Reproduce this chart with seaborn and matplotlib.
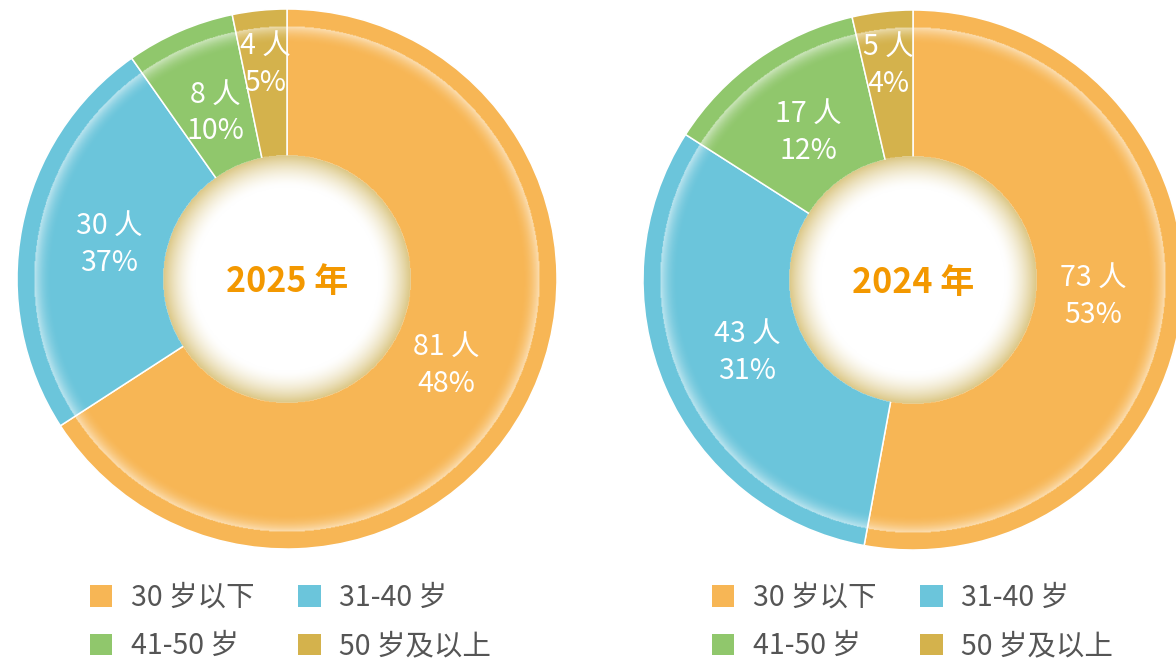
import numpy as np
import matplotlib
matplotlib.use("Agg")
import matplotlib.pyplot as plt
import seaborn as sns
from matplotlib.patches import Patch

sns.set_theme(style="white")
plt.rcParams['font.family'] = ['Noto Sans CJK SC', 'DejaVu Sans']

# data
categories = ["30 岁以下", "31-40 岁", "41-50 岁", "50 岁及以上"]
years = ["2025 年", "2024 年"]
counts_2025 = [81, 30, 8, 4]
pct_2025 = ["48%", "37%", "10%", "5%"]
counts_2024 = [73, 43, 17, 5]
pct_2024 = ["53%", "31%", "12%", "4%"]

palette = sns.color_palette(["#F7B655", "#6BC5DB", "#90C76C", "#D4B24C"])

W, H = 1176, 662
R = 270          # outer radius in px
half = 285
lim = half / R

fig = plt.figure(figsize=(W / 100, H / 100), dpi=100)


def overlay():
    # white glow inside the outer band + shaded hole in the middle
    n = 700
    g = np.linspace(-lim, lim, n)
    xx, yy = np.meshgrid(g, g)
    rr = np.hypot(xx, yy) * R
    rgba = np.ones((n, n, 4))
    r_rim, glow = 253, 18
    t = np.clip((rr - (r_rim - glow)) / glow, 0, 1)
    a = np.where(rr <= r_rim, 0.55 * t ** 2, 0)
    r_hole, shade = 124, 32
    s = np.clip((rr - (r_hole - shade)) / shade, 0, 1) ** 1.6
    beige = np.array([0.86, 0.78, 0.52])
    hole = rr <= r_hole
    rgba[hole, :3] = 1 - s[hole, None] * (1 - beige)
    rgba[..., 3] = np.where(hole, 1, a)
    return rgba


def donut(cx, cy, counts, pcts, year):
    ax = fig.add_axes([(cx - half) / W, (H - cy - half) / H, 2 * half / W, 2 * half / H])
    wedges, _ = ax.pie(counts, colors=palette, startangle=90, counterclock=False,
                       radius=1, wedgeprops=dict(edgecolor="white", linewidth=1.1))
    ax.imshow(overlay(), extent=(-lim, lim, -lim, lim), origin="lower",
              zorder=3, interpolation="bilinear")
    ax.set_xlim(-lim, lim)
    ax.set_ylim(-lim, lim)
    ax.axis("off")
    for w, c, p in zip(wedges, counts, pcts):
        mid = np.deg2rad((w.theta1 + w.theta2) / 2)
        frac = abs(w.theta2 - w.theta1) / 360
        rl = 0.8 if frac < 0.05 else 0.67
        ax.text(rl * np.cos(mid), rl * np.sin(mid), f"{c} 人\n{p}", ha="center", va="center",
                color="white", fontsize=20.5, fontweight="light", linespacing=1.3, zorder=5)
    ax.text(0, -0.01, year, ha="center", va="center", color="#F39800", fontsize=24.5,
            fontweight="bold", zorder=5)
    return ax


donut(287, 279, counts_2025, pct_2025, years[0])
donut(913, 280, counts_2024, pct_2024, years[1])

order = [0, 2, 1, 3]
handles = [Patch(facecolor=palette[i], edgecolor="none") for i in order]
labels = [categories[i] for i in order]
for lx in (90, 712):
    fig.legend(handles, labels, ncol=2, loc="upper left",
               bbox_to_anchor=(lx / W, 1 - 583 / H), frameon=False,
               prop=dict(size=20.5, weight="light"), labelcolor="#555555",
               handlelength=0.78, handleheight=0.78, handletextpad=0.65,
               columnspacing=1.55, labelspacing=0.64, borderpad=0, borderaxespad=0)

fig.savefig("out.png", dpi=100)
